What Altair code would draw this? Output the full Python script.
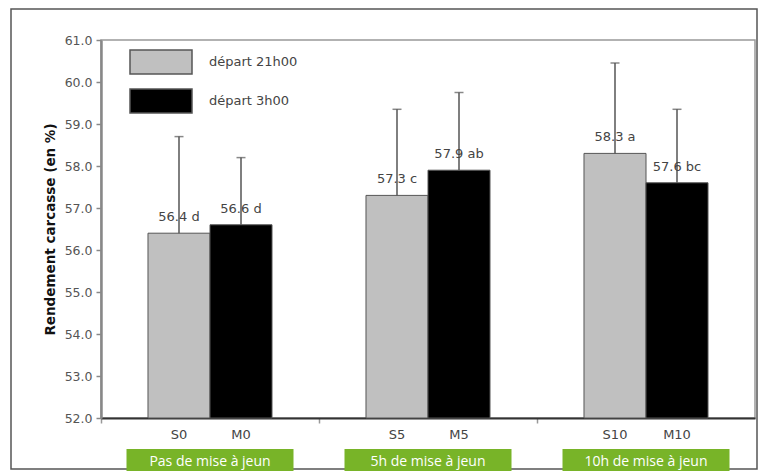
import altair as alt
import pandas as pd

groups = ["Pas de mise à jeun", "5h de mise à jeun", "10h de mise à jeun"]
series = ["départ 21h00", "départ 3h00"]
codes = ["S0", "M0", "S5", "M5", "S10", "M10"]
means = [56.4, 56.6, 57.3, 57.9, 58.3, 57.6]
err_top = [58.7, 58.2, 59.35, 59.75, 60.45, 59.35]
letters = ["d", "d", "c", "ab", "a", "bc"]
y_ticks = [52, 53, 54, 55, 56, 57, 58, 59, 60, 61]
colors = ["#c0c0c0", "#000000"]

FONT = "DejaVu Sans"

rows = []
for i, code in enumerate(codes):
    rows.append({
        "group": groups[i // 2],
        "series": series[i % 2],
        "code": code,
        "mean": means[i],
        "top": err_top[i],
        "label": f"{means[i]:.1f} {letters[i]}",
    })
df = pd.DataFrame(rows)
gdf = pd.DataFrame({"group": groups})
ldf = pd.DataFrame({"series": series})

W, H = 654, 378

x_enc = alt.X("group:N", sort=groups,
              scale=alt.Scale(paddingInner=0, paddingOuter=0),
              axis=alt.Axis(labels=False, title=None, tickSize=5, tickColor="#999",
                            tickWidth=1.5, bandPosition=0, domainColor="#333",
                            domainWidth=2))
xo = alt.XOffset("series:N", sort=series,
                 scale=alt.Scale(paddingInner=0, paddingOuter=0.758))
y_enc = alt.Y("mean:Q", scale=alt.Scale(domain=[52, 61], zero=False),
              axis=alt.Axis(values=y_ticks, format=".1f", labelColor="#555",
                            labelFont=FONT, labelFontSize=12.5,
                            tickColor="#888", tickSize=5, tickWidth=1.5,
                            domainColor="#888", domainWidth=2.5, grid=False,
                            title="Rendement carcasse (en %)", titleFontWeight="bold",
                            titleFontSize=13.5, titleColor="#111", titleFont=FONT,
                            titlePadding=7, labelPadding=4))
color_enc = alt.Color("series:N", sort=series,
                      scale=alt.Scale(domain=series, range=colors), legend=None)

base = alt.Chart(df)

frame = alt.Chart(gdf).transform_filter(alt.datum.group == groups[0]).mark_rect(
    fill=None, stroke="#555", strokeWidth=1.5).encode(
    x=alt.value(-90), x2=alt.value(656), y=alt.value(-31), y2=alt.value(429))

bars = base.mark_bar(stroke="#555", strokeWidth=1).encode(
    x=x_enc, xOffset=xo, y=y_enc, y2=alt.datum(52), color=color_enc)

err = base.mark_rule(color="#555", strokeWidth=1.5).encode(
    x=alt.X("group:N", sort=groups), xOffset=alt.XOffset("series:N", sort=series),
    y="mean:Q", y2="top:Q")
caps = base.mark_tick(orient="horizontal", color="#555", size=9, thickness=1.5).encode(
    x=alt.X("group:N", sort=groups), xOffset=alt.XOffset("series:N", sort=series),
    y="top:Q")

vlabels = base.mark_text(font=FONT, fontSize=13, color="#444", dy=-16).encode(
    x=alt.X("group:N", sort=groups), xOffset=alt.XOffset("series:N", sort=series),
    y="mean:Q", text="label:N")

codes_txt = base.mark_text(font=FONT, fontSize=13, color="#444").encode(
    x=alt.X("group:N", sort=groups), xOffset=alt.XOffset("series:N", sort=series),
    y=alt.value(395), text="code:N")

green = alt.Chart(gdf).mark_bar(size=167, color="#78b428").encode(
    x=alt.X("group:N", sort=groups), y=alt.value(409), y2=alt.value(460))
green_txt = alt.Chart(gdf).mark_text(font="Open Sans", fontSize=14, color="white").encode(
    x=alt.X("group:N", sort=groups), y=alt.value(422), text="group:N")

leg_layers = []
for i, s in enumerate(series):
    yc = 22 + 39 * i
    r = alt.Chart(ldf).transform_filter(alt.datum.series == s).mark_rect(
        stroke="#555", strokeWidth=1.5).encode(
        x=alt.value(29), x2=alt.value(91), y=alt.value(yc - 12), y2=alt.value(yc + 12),
        color=color_enc)
    t = alt.Chart(ldf).transform_filter(alt.datum.series == s).mark_text(
        font=FONT, fontSize=13, color="#444", align="left").encode(
        x=alt.value(108), y=alt.value(yc), text="series:N")
    leg_layers += [r, t]

chart = alt.layer(frame, bars, err, caps, vlabels, codes_txt, green, green_txt, *leg_layers).properties(
    width=W, height=H,
    autosize=alt.AutoSizeParams(type="none"),
    padding={"left": 93, "top": 32, "right": 3, "bottom": 53},
).configure_view(stroke="#999", strokeWidth=1.5)

chart.save("out.html", embed_options={"renderer": "svg", "actions": False})
